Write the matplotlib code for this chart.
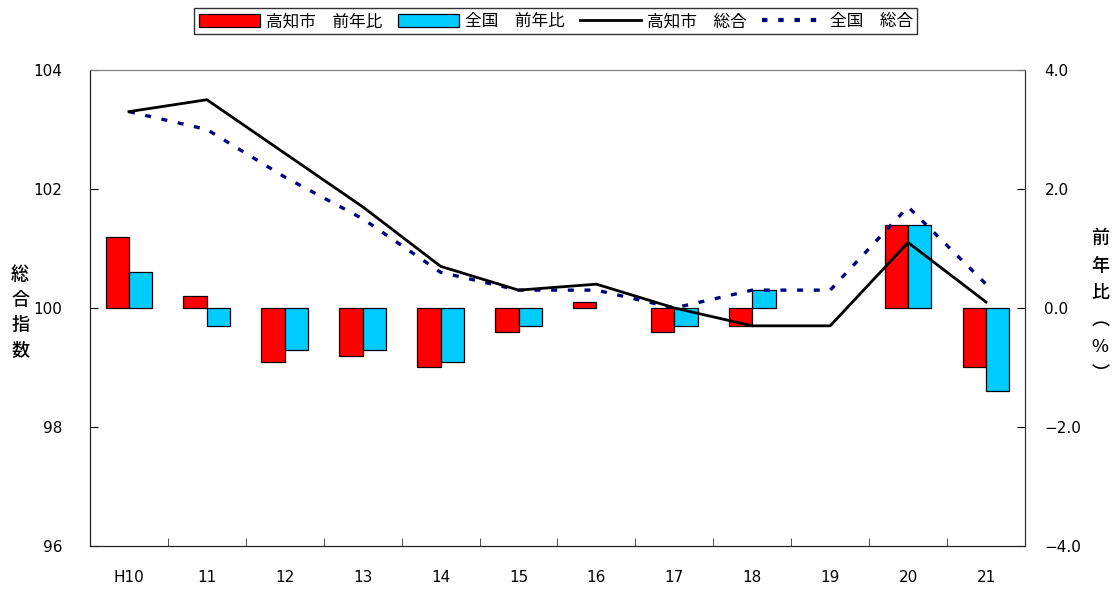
import matplotlib
matplotlib.use("Agg")
import matplotlib.pyplot as plt
from matplotlib.patches import Patch
from matplotlib.lines import Line2D
import numpy as np

plt.rcParams['font.family'] = ['DejaVu Sans', 'Noto Sans CJK JP']

years = ['H10', '11', '12', '13', '14', '15', '16', '17', '18', '19', '20', '21']
# 前年比 (%)
kochi_yoy = [1.2, 0.2, -0.9, -0.8, -1.0, -0.4, 0.1, -0.4, -0.3, 0.0, 1.4, -1.0]
zenkoku_yoy = [0.6, -0.3, -0.7, -0.7, -0.9, -0.3, 0.0, -0.3, 0.3, 0.0, 1.4, -1.4]
# 総合指数
kochi_idx = [103.3, 103.5, 102.6, 101.7, 100.7, 100.3, 100.4, 100.0, 99.7, 99.7, 101.1, 100.1]
zenkoku_idx = [103.3, 103.0, 102.2, 101.5, 100.6, 100.3, 100.3, 100.0, 100.3, 100.3, 101.7, 100.4]

x = np.arange(len(years))
w = 0.3

fig = plt.figure(figsize=(11.18, 5.9), dpi=100)
ax = fig.add_axes([0.0805, 0.0746, 0.8363, 0.8068])
ax2 = ax.twinx()

# bars on right axis (no outline for zero values)
lw_k = [0.9 if v != 0 else 0 for v in kochi_yoy]
lw_z = [0.9 if v != 0 else 0 for v in zenkoku_yoy]
ax2.bar(x - w / 2, kochi_yoy, w, color='#ff0000', edgecolor='black', linewidth=lw_k)
ax2.bar(x + w / 2, zenkoku_yoy, w, color='#00ccff', edgecolor='black', linewidth=lw_z)
ax2.set_ylim(-4, 4)
ax2.set_yticks([-4, -2, 0, 2, 4])
ax2.set_yticklabels(['\u22124.0', '\u22122.0', '0.0', '2.0', '4.0'])

# lines on left axis, drawn over the bars
ax.set_zorder(ax2.get_zorder() + 1)
ax.patch.set_visible(False)
ax.plot(x, zenkoku_idx, color='#000080', lw=2.4, linestyle=(0, (1.8, 3.2)),
        dash_capstyle='butt')
ax.plot(x, kochi_idx, color='black', lw=2.0)
ax.set_ylim(96, 104)
ax.set_yticks([96, 98, 100, 102, 104])
ax.set_xlim(-0.5, len(years) - 0.5)
ax.set_xticks(x)
ax.set_xticklabels(years)
ax.set_xticks(np.arange(0.5, len(years) - 1, 1.0), minor=True)

ax.tick_params(axis='x', which='major', length=0, pad=17, labelsize=11)
ax.tick_params(axis='x', which='minor', direction='in', length=6, color='#333333')
ax.tick_params(axis='y', direction='in', length=6, pad=20, labelsize=11)
ax2.tick_params(axis='y', direction='in', length=6, pad=14, labelsize=11)

for a in (ax, ax2):
    a.spines['top'].set_color('#808080')
    a.spines['left'].set_color('#222222')
    a.spines['right'].set_color('#333333')
    a.spines['bottom'].set_color('#222222')

fig.text(0.018, 0.47, '総\n合\n指\n数', ha='center', va='center', fontsize=13,
         linespacing=1.5, family='Noto Sans CJK JP', fontweight='medium')
fig.text(0.984, 0.481, '前\n年\n比\n︵\n%\n︶', ha='center', va='center', fontsize=13,
         linespacing=1.65, family='Noto Sans CJK JP', fontweight='medium')

handles = [
    Patch(facecolor='#ff0000', edgecolor='black', linewidth=0.9),
    Patch(facecolor='#00ccff', edgecolor='black', linewidth=0.9),
    Line2D([], [], color='black', lw=2.0),
    Line2D([], [], color='#000080', lw=3.0, linestyle=(0, (1.3, 2.6)), dash_capstyle='butt'),
]
labels = ['高知市\u3000前年比', '全国\u3000前年比', '高知市\u3000総合', '全国\u3000総合']
leg = fig.legend(handles, labels, loc='center', bbox_to_anchor=(0.497, 0.964), ncol=4,
                 fontsize=12, frameon=True, fancybox=False, edgecolor='black',
                 handlelength=3.7, handleheight=0.75, handletextpad=0.35,
                 columnspacing=0.9, borderpad=0.25, borderaxespad=0)
leg.get_frame().set_linewidth(1.0)

fig.savefig('out.png', dpi=100)
